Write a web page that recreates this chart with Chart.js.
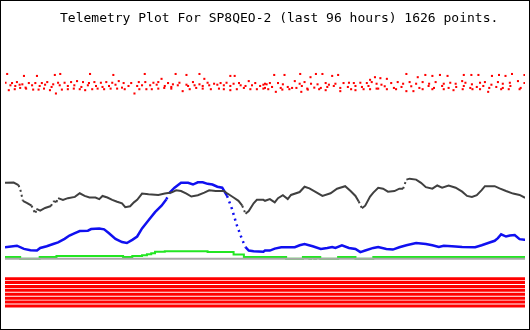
<!DOCTYPE html>
<html>
<head>
<meta charset="utf-8">
<script src="https://cdn.jsdelivr.net/npm/chart.js@4.4.1/dist/chart.umd.min.js"></script>
<style>
  html, body { margin: 0; padding: 0; background: #fff; }
  #wrap { width: 528px; height: 328px; border: 1px solid #000; }
  canvas { display: block; }
</style>
</head>
<body>
<div id="wrap"><canvas id="plot" width="528" height="328"></canvas></div>
<script>
const titleText = 'Telemetry Plot For SP8QEO-2 (last 96 hours) 1626 points.';

// [hours, scaled value]
const redDots = [
  [0.4,257.3],[3.5,255.3],[5.9,255.3],[9.2,256.3],[10.2,257.3],[15.7,257.3],[20.0,256.3],[25.8,257.3],
  [31.5,257.3],[33.5,256.3],[35.9,257.3],[36.8,252.3],[41.6,255.3],[42.4,255.3],
  [0.1,248.3],[1.3,248],[2.2,249],[3.2,246.7],[4.4,248],[5.6,248],[6.8,248],[7.8,249],[8.9,246.7],
  [9.8,248.3],[11.0,248.3],[12.2,249],[13.3,250],[14.4,249],[15.5,248],[16.5,249],[17.7,248.3],
  [18.7,249],[19.8,248.3],[21.0,250],[21.9,248],[23.3,248],[24.7,249],[25.9,249],[27.4,248.3],
  [28.3,249],[28.9,252.3],[30.1,248],[31.0,246.7],[32.2,248.3],[33.5,246.3],[34.7,249],[35.9,246.7],
  [37.4,248.3],[38.6,247.3],[39.8,248],[40.9,248.3],[42.2,247.3],[43.2,248],[45.0,250],[46.2,248],[48.0,247.3],
  [1.0,245.7],[1.9,245],[2.7,246.3],[3.8,243.3],[5.0,245.7],[6.4,245],[7.4,246.3],[8.6,244],[10.1,245.7],
  [11.6,245],[12.8,245.7],[14.1,244],[15.3,245.7],[16.8,245],[18.0,244],[19.2,245],[20.4,246.3],
  [21.6,243.3],[22.8,245],[24.4,245],[25.3,245.7],[26.8,245.7],[28.0,246.3],[29.5,245],[30.7,244],
  [31.9,245.7],[33.8,245],[35.0,245.7],[36.5,245],[37.7,245.7],[39.2,246.3],[40.4,245.7],[41.6,245],
  [43.5,245.7],[44.4,245],[45.6,245.7],[47.1,245],[47.7,246.3],
  [0.7,240.7],[1.8,241.7],[2.8,243],[3.9,242.3],[5.2,241.3],[6.2,241.3],[7.2,242.3],[8.3,240.7],
  [9.4,237.3],[10.5,241.3],[11.6,241.7],[12.7,242.3],[13.8,241.7],[14.8,240.7],[16.1,241.7],[17.1,242.3],
  [18.3,241.7],[19.5,242.3],[20.7,242.3],[22.1,241.7],[23.9,237.3],[24.8,241.7],[26.1,241.7],[27.1,241.7],
  [28.3,242.3],[29.4,243],[30.7,242.3],[32.8,239.7],[34.1,241.7],[35.3,243],[36.5,242.3],[38.0,241.7],
  [39.5,242.3],[40.4,241.7],[41.6,240.7],[42.8,241.7],[44.1,243],[45.3,241.7],[46.5,241.7],[47.7,242.3],
  [49.7,256.3],[51.6,256.3],[54.5,257.3],[56.4,254],[57.4,257.3],[58.6,257.3],[60.4,255.3],[61.5,256.3],
  [67.4,251.3],[68.3,254],[69.3,253],[70.5,252.3],[74.1,257.3],[76.2,254],[77.6,256.3],[78.9,255.3],
  [80.3,256.3],[81.7,255.3],[84.7,256.3],[86.1,256.3],[87.4,256.3],[89.9,255.3],[91.2,256.3],[92.4,255.3],
  [93.6,257.3],[95.9,256.3],
  [48.3,246.7],[48.9,248],[50.4,248],[51.3,246.7],[52.2,244],[53.5,250],[54.4,247.3],[55.3,249],
  [56.5,247.3],[57.7,246.7],[59.2,248],[59.8,246.3],[61.0,247.3],[62.5,248],[63.5,248.3],[64.4,248],
  [65.6,248.3],[66.8,248],[67.7,249],[68.6,247.3],[69.5,246.3],[71.3,248],[72.5,249],[73.5,247.3],
  [74.7,249],[75.9,247.3],[77.1,249],[78.3,247.3],[79.5,249],[81.0,247.3],[82.2,248.3],[83.2,247.3],
  [84.4,250],[85.0,248.3],[86.2,246.7],[87.7,248.3],[88.6,249],[89.8,246.3],[91.0,249],[91.9,247.3],
  [93.2,248.3],[94.7,250],[95.9,248],
  [48.0,243],[49.3,244],[50.9,243],[53.0,243],[53.8,243],[54.8,245],[55.8,242.3],[57.1,243.3],
  [58.3,243],[59.5,244],[60.7,245],[61.9,243],[63.3,244],[64.7,245],[65.9,244],[67.1,245],
  [68.9,242.3],[70.1,244.7],[71.8,243],[73.2,244],[75.0,244.7],[76.5,243],[78.2,245],[79.2,243],
  [80.7,245],[81.9,243],[83.3,244],[84.7,245],[85.9,243],[87.1,244],[88.3,245],[89.4,243],
  [90.7,244],[91.9,243],[93.3,245],[95.2,243],
  [48.6,241.7],[50.0,239],[51.2,241.3],[52.5,241.7],[54.7,239],[55.9,241.3],[58.0,241.7],[59.2,240.7],
  [61.9,239.7],[63.9,241.7],[64.7,240.7],[66.2,241.7],[67.4,241.7],[68.6,242.3],[70.5,241.7],[72.2,241.7],
  [74.1,239.7],[75.4,239.7],[77.1,241.7],[78.9,241.7],[81.0,241.7],[82.8,240.7],[84.5,241.7],[86.3,241.7],
  [87.7,241.7],[89.2,239],[91.6,241.7],[93.0,241.7],[95.0,241.7]
];

const blackLine = [
  [0,145.7],[1.6,146],[2.5,143.3],[2.9,137.3],[3.3,127.3],[4.1,125],[4.9,122.3],[5.6,114],[5.8,119],
  [6.5,117.3],[7.4,120],[8.5,122],[8.9,127],[9.5,126],[9.8,130],[10.7,128.3],[11.6,130],[12.9,131.3],
  [13.8,135],[14.7,132.3],[15.6,130.7],[16.7,130.7],[17.4,129],[18,132.3],[18.9,130.7],[19.8,128.3],
  [20.7,126.3],[21.6,124.7],[22.2,120.7],[23.1,121.7],[23.8,125.7],[24.4,128.3],[25.3,134.7],[26.5,134],
  [28.3,133.3],[29.5,134.7],[30.7,135.7],[31.6,138],[32.5,137.3],[33.5,134.7],[34.4,131.7],[35.6,133],
  [36.8,135.7],[37.7,138],[38.9,137.3],[40.4,137.3],[41.0,135],[42.2,130.7],[43.1,127.3],[43.8,122.3],
  [44.4,114],[45.0,116.7],[45.9,124.7],[46.5,128.3],[47.7,128.3],
  [48.0,127.3],[48.9,129],[49.8,125.7],[50.4,130],[51.3,133],[52.2,129],[52.8,133.3],[54.4,136.3],
  [55.3,141.7],[56.2,140],[57.4,136.3],[58.6,132.3],[60.1,135],[61.3,139.7],[62.8,142.3],[63.8,137.3],
  [64.7,132.3],[65.3,126.7],[65.9,119.7],[66.5,122.3],[67.4,131.7],[68.0,135.7],[68.9,140.7],[69.8,139.7],
  [70.7,136.7],[71.9,137.3],[72.8,139.7],[73.5,139.7],[74.1,149],[74.7,150],[75.9,149],[76.8,145.7],
  [77.7,141.3],[78.9,139.7],[79.8,143],[80.7,140.7],[81.9,143],[83.2,140.7],[84.4,136.7],[85.3,132.3],
  [86.2,131.3],[87.1,133],[88.0,138.3],[88.6,142.3],[90.4,142.3],[91.3,140],[92.5,137.3],[93.8,134.7],
  [95.0,133.3],[95.9,130.7],[96,130.7]
];

const blueLine = [
  [0,79.7],[2.2,81.3],[3.5,78],[4.7,76.7],[5.9,76.3],[6.5,79],[7.7,80.7],[8.9,83],[9.8,84.7],
  [11.0,88.3],[11.9,91.7],[12.8,94],[13.8,96.3],[15.3,96.7],[15.9,98.3],[17.4,99],[18.3,98],[19.2,94],
  [20.4,88.3],[21.6,85],[22.5,84],[23.5,87.3],[24.4,90.7],[25.3,99],[26.5,107.3],[27.7,115.7],
  [28.9,122.3],[29.8,129],[30.4,135.7],[31.3,140.7],[32.5,145.7],[33.8,145.7],[34.7,144],[35.6,146.3],
  [36.5,146.3],[37.4,144.7],[38.3,144],[39.2,141.7],[40.1,140.7],[41.0,132.3],[41.9,119],[42.8,102.3],
  [43.8,87.3],[44.4,79.7],[45.0,76.3],[45.9,75.7],[47.7,75],
  [48.0,76.3],[48.9,76.3],[49.8,78.3],[51.0,79.7],[53.5,79.7],[54.4,81.7],[55.3,83],[56.8,80.7],
  [58.3,78],[59.5,79],[60.4,80],[61.0,79],[62.2,81.7],[63.5,79],[64.7,78],[65.6,74.7],[66.5,76.3],
  [68.0,79],[68.9,80],[70.4,78],[71.6,77.3],[72.8,79.7],[74.1,81.7],[75.9,84],[77.7,83],[78.9,81.7],
  [80.1,80],[81.0,81.3],[82.5,80.7],[84.4,80],[86.8,79.7],[88.0,81.7],[89.2,84],[90.4,86.3],[91.0,89],
  [91.6,93],[92.5,90.7],[93.2,91.7],[94.1,92.3],[95.0,88],[95.9,87.3],[96,87.3]
];

// stepped: each value holds until the next entry
const greenLine = [
  [0,69.7],[2.8,68],[6.4,69.7],[9.5,70.7],[21.8,69.7],[23.5,70.7],[25.3,71.5],[26.2,72.5],[27,73.5],
  [27.7,75],[29.5,75.7],[37.4,74.7],[42.2,72.3],[44.1,69.7],[51.9,68],[55,69.7],[56.2,68],[56.5,69.7],
  [57.1,68],[57.4,69.7],[58.2,68],[61.5,69.7],[64.7,68],[68,69.7],[96,69.7]
];

const grayLevel = 68;
const bitLevels = [47.5, 43.5, 39.5, 35.5, 31.5, 27.5, 23.5, 19.5];

const toXY = arr => arr.map(p => ({ x: p[0], y: p[1] }));

const steep = (ctx, style) => {
  const dx = Math.abs(ctx.p1.x - ctx.p0.x);
  const dy = Math.abs(ctx.p1.y - ctx.p0.y);
  return dy > dx * 2 ? style : undefined;
};

const datasets = [
  {
    data: toXY(redDots), showLine: false, order: 0,
    pointStyle: 'rect', pointRadius: 1.45, pointBorderWidth: 0,
    pointBackgroundColor: '#ff0000'
  },
  {
    data: toXY(blackLine), order: 1, borderColor: '#404040', borderWidth: 2,
    pointRadius: 0, segment: { borderDash: ctx => steep(ctx, [2, 3]) }
  },
  {
    data: toXY(blueLine), order: 2, borderColor: '#1010f0', borderWidth: 2.5,
    pointRadius: 0, segment: { borderDash: ctx => steep(ctx, [2, 4]) }
  },
  {
    data: [{ x: 0, y: grayLevel }, { x: 96, y: grayLevel }], order: 3,
    borderColor: '#a8a8a8', borderWidth: 2, pointRadius: 0
  },
  {
    data: toXY(greenLine), order: 4, stepped: true,
    borderColor: '#22e622', borderWidth: 2, pointRadius: 0
  }
];

bitLevels.forEach(v => {
  datasets.push({
    data: [{ x: 0, y: v }, { x: 96, y: v }], order: 5,
    borderColor: '#ff0000', borderWidth: 3, pointRadius: 0
  });
});

// Title drawn at a fixed spot like the original plot
const titlePlugin = {
  id: 'plotTitle',
  afterDraw(chart) {
    const ctx = chart.ctx;
    ctx.save();
    ctx.font = '13px "DejaVu Sans Mono", monospace';
    ctx.fillStyle = '#000';
    ctx.textAlign = 'left';
    ctx.textBaseline = 'alphabetic';
    ctx.fillText(titleText, 59, 21);
    ctx.restore();
  }
};

new Chart(document.getElementById('plot'), {
  type: 'line',
  data: { datasets },
  options: {
    responsive: false,
    animation: false,
    events: [],
    layout: { padding: 0 },
    plugins: {
      legend: { display: false },
      tooltip: { enabled: false },
      title: { display: false }
    },
    elements: { line: { tension: 0 } },
    scales: {
      x: { type: 'linear', min: 0, max: 96, display: false },
      y: { type: 'linear', min: 0, max: 328, display: false }
    }
  },
  plugins: [titlePlugin]
});
</script>
</body>
</html>
